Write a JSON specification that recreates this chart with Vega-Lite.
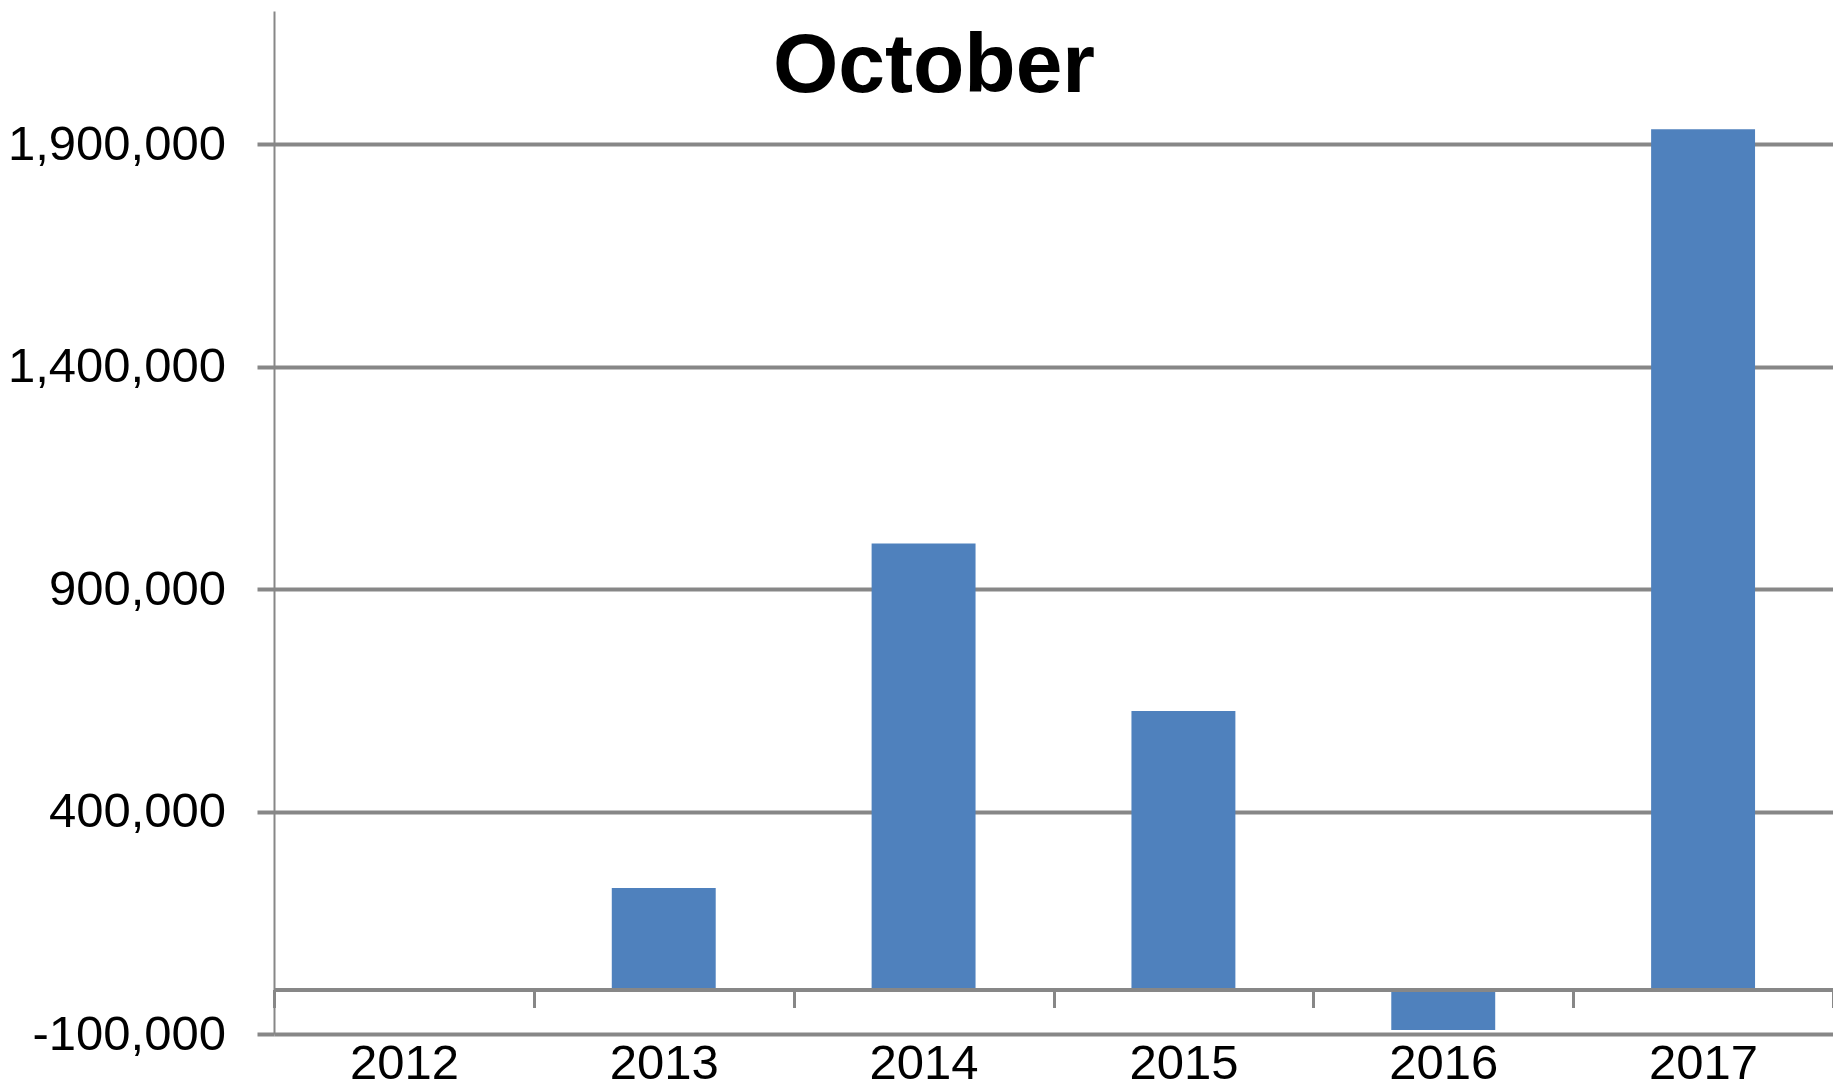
{
  "$schema": "https://vega.github.io/schema/vega-lite/v6.json",
  "autosize": {"type": "none"},
  "padding": {"left": 274, "top": 11, "right": 0, "bottom": 55},
  "width": 1559,
  "height": 1023,
  "background": "white",
  "config": {"view": {"stroke": null}},
  "title": {
    "text": "October",
    "anchor": "start",
    "frame": "group",
    "orient": "top",
    "offset": -165,
    "dx": 499,
    "baseline": "alphabetic",
    "font": "Liberation Sans",
    "fontSize": 84,
    "fontWeight": "bold",
    "color": "black"
  },
  "data": {
    "values": [
      {"year": "2012", "value": 0},
      {"year": "2013", "value": 228000},
      {"year": "2014", "value": 1003000},
      {"year": "2015", "value": 626000},
      {"year": "2016", "value": -91000},
      {"year": "2017", "value": 1934000}
    ]
  },
  "mark": {"type": "bar", "color": "#4F81BD", "width": {"band": 0.4}},
  "encoding": {
    "x": {
      "field": "year",
      "type": "ordinal",
      "scale": {"paddingInner": 0, "paddingOuter": 0},
      "axis": {
        "title": null,
        "orient": "bottom",
        "offset": -44.5,
        "zindex": 1,
        "grid": false,
        "domainColor": "#878787",
        "domainWidth": 4,
        "tickColor": "#878787",
        "tickWidth": 3,
        "tickSize": 18,
        "tickBand": "extent",
        "labelAngle": 0,
        "labelFont": "Liberation Sans",
        "labelFontSize": 49,
        "labelColor": "black",
        "labelBaseline": "bottom",
        "labelPadding": 80.5,
        "labelLimit": 0
      }
    },
    "y": {
      "field": "value",
      "type": "quantitative",
      "scale": {"domain": [-100000, 2200000], "nice": false, "zero": false},
      "axis": {
        "title": null,
        "values": [-100000, 400000, 900000, 1400000, 1900000],
        "format": ",.0f",
        "labelExpr": "replace(datum.label, '\u2212', '-')",
        "grid": true,
        "gridColor": "#878787",
        "gridWidth": 4,
        "domainColor": "#878787",
        "domainWidth": 2,
        "tickColor": "#878787",
        "tickWidth": 4,
        "tickSize": 17,
        "labelFont": "Liberation Sans",
        "labelFontSize": 49,
        "labelColor": "black",
        "labelPadding": 31.5,
        "labelLimit": 0
      }
    }
  }
}
